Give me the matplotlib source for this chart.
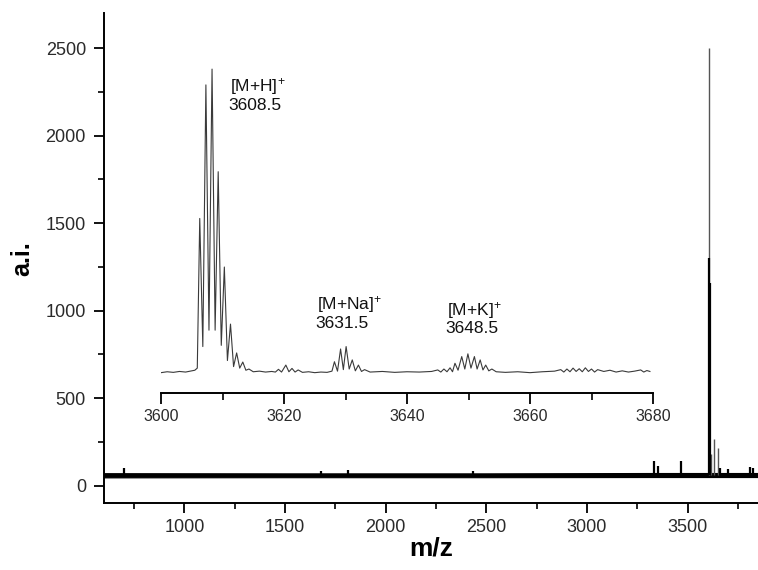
import matplotlib
matplotlib.use("Agg")
import matplotlib.pyplot as plt
from matplotlib.ticker import MultipleLocator

plt.rcParams['font.family'] = ['Liberation Sans', 'DejaVu Sans']
plt.rcParams['mathtext.fontset'] = 'custom'
plt.rcParams['mathtext.rm'] = 'Liberation Sans'
plt.rcParams['mathtext.it'] = 'Liberation Sans'

# ---------------- main spectrum data ----------------
baseline_mz = [600, 1500, 2500, 3300, 3850]
baseline_lo = [48, 49, 49, 50, 50]
baseline_hi = [72, 71, 71, 73, 73]

black_peak_mz = [697, 1677, 1812, 2434, 3335, 3352, 3467, 3607, 3609, 3662, 3700, 3811, 3827]
black_peak_int = [103, 85, 92, 86, 143, 114, 143, 1300, 1160, 103, 95, 109, 103]

grey_peak_mz = [3608, 3615, 3631, 3649]
grey_peak_int = [2500, 183, 266, 218]

# ---------------- inset (zoomed) data: relative intensity ----------------
inset_mz = [3600, 3601, 3602, 3603, 3604, 3605, 3605.5, 3605.9,
            3606.3, 3606.8, 3607.3, 3607.8, 3608.3, 3608.8, 3609.3, 3609.8,
            3610.3, 3610.8, 3611.3, 3611.8, 3612.3, 3612.8, 3613.3, 3613.8,
            3614.3, 3615, 3616, 3617, 3618, 3618.6, 3619.1, 3619.6, 3620.3,
            3620.8, 3621.3, 3621.8, 3622.3, 3623, 3624, 3625, 3626, 3627,
            3627.8, 3628.2, 3628.7, 3629.2, 3629.65, 3630.1, 3630.6, 3631.1,
            3631.6, 3632.1, 3632.6, 3633.1, 3634, 3636, 3638, 3640, 3642,
            3644, 3645, 3645.5, 3646, 3646.5, 3647, 3647.4, 3647.8, 3648.3,
            3648.9, 3649.4, 3649.9, 3650.4, 3650.96, 3651.4, 3651.9, 3652.35,
            3652.8, 3653.3, 3653.8, 3654.5, 3656, 3658, 3660, 3662, 3664,
            3665, 3665.5, 3666, 3666.5, 3667, 3667.5, 3668, 3668.5, 3669,
            3669.5, 3670, 3670.5, 3671, 3672, 3673, 3674, 3675, 3676, 3677,
            3678, 3678.5, 3679, 3679.5]
inset_int = [0.0, 0.3, 0.1, 0.4, 0.2, 0.6, 0.8, 1.5,
             50.8, 8.6, 94.8, 14.0, 100.0, 14.0, 66.2, 9.0,
             34.8, 4.0, 16.0, 2.0, 6.5, 1.5, 3.5, 0.8,
             1.2, 0.3, 0.5, 0.2, 0.4, 0.2, 1.1, 0.2, 2.5,
             0.3, 1.4, 0.2, 0.9, 0.1, 0.3, 0.0, 0.2, 0.1,
             0.5, 3.6, 0.5, 7.8, 1.0, 8.6, 1.2, 4.2,
             0.6, 2.5, 0.4, 1.0, 0.2, 0.4, 0.1, 0.3, 0.2,
             0.4, 0.9, 0.2, 1.2, 0.3, 1.6, 0.3, 3.1, 0.8,
             5.3, 1.2, 6.2, 1.5, 5.3, 1.2, 4.2, 0.9,
             2.5, 0.6, 1.2, 0.3, 0.1, 0.3, 0.0, 0.3, 0.5,
             1.0, 0.2, 1.2, 0.3, 1.5, 0.4, 1.3, 0.3, 1.6,
             0.4, 1.2, 0.2, 1.0, 0.4, 0.8, 0.2, 0.6, 0.2, 0.5,
             0.9, 0.2, 0.7, 0.4]

inset_labels = [r"[M+H]$^{\!+}$", r"[M+Na]$^{\!+}$", r"[M+K]$^{\!+}$"]
inset_masses = ["3608.5", "3631.5", "3648.5"]
label_mz = [3611.2, 3625.4, 3646.5]
label_y_name = [94.2, 22.3, 20.6]
label_y_mass = [87.9, 16.3, 14.6]

# ---------------- figure ----------------
W, H = 758, 570
fig = plt.figure(figsize=(W / 100, H / 100), dpi=100)

ax = fig.add_axes([104 / W, (H - 503.3) / H, 1 - 104 / W, 490.3 / H])
ax.fill_between(baseline_mz, baseline_lo, baseline_hi, color='black', lw=0.8)
ax.vlines(grey_peak_mz, [60] * len(grey_peak_mz), grey_peak_int, color='#555555', lw=1.0)
ax.vlines(black_peak_mz, [60] * len(black_peak_mz), black_peak_int, color='black', lw=1.6)

ax.set_xlim(600, 3850)
ax.set_ylim(-100, 2700)
for s in ['top', 'right']:
    ax.spines[s].set_visible(False)
for s in ['left', 'bottom']:
    ax.spines[s].set_linewidth(1.4)
ax.xaxis.set_major_locator(MultipleLocator(500))
ax.xaxis.set_minor_locator(MultipleLocator(250))
ax.yaxis.set_major_locator(MultipleLocator(500))
ax.yaxis.set_minor_locator(MultipleLocator(250))
ax.tick_params(which='major', direction='out', length=7, width=1.3, labelsize=13,
               labelcolor='#2a2a2a')
ax.tick_params(which='minor', direction='out', length=4.5, width=1.2)
ax.tick_params(axis='y', which='major', pad=6)
ax.tick_params(axis='x', which='major', pad=4)
ax.set_xlabel('m/z', fontsize=19, fontweight='bold', labelpad=1)
ax.set_ylabel('a.i.', fontsize=18, fontweight='bold', labelpad=8)

# inset
axi = fig.add_axes([161 / W, (H - 392.7) / H, 492 / W, 332.7 / H])
axi.patch.set_alpha(0)
axi.plot(inset_mz, inset_int, color='#3a3a3a', lw=0.8)
axi.set_xlim(3600, 3680)
axi.set_ylim(-6.6, 103)
for s in ['top', 'right', 'left']:
    axi.spines[s].set_visible(False)
axi.spines['bottom'].set_linewidth(1.4)
axi.set_yticks([])
axi.xaxis.set_major_locator(MultipleLocator(20))
axi.xaxis.set_minor_locator(MultipleLocator(10))
axi.tick_params(axis='x', which='major', direction='out', length=8, width=1.3,
                labelsize=11.5, labelcolor='#2a2a2a', pad=4)
axi.tick_params(axis='x', which='minor', direction='out', length=5, width=1.2)

for name, mass, xm, yn, ym in zip(inset_labels, inset_masses, label_mz,
                                  label_y_name, label_y_mass):
    axi.text(xm, yn, name, fontsize=12.5, ha='left', va='center', color='#111111')
    axi.text(xm - 0.3, ym, mass, fontsize=12.5, ha='left', va='center', color='#111111')

fig.savefig('out.png', dpi=100)
